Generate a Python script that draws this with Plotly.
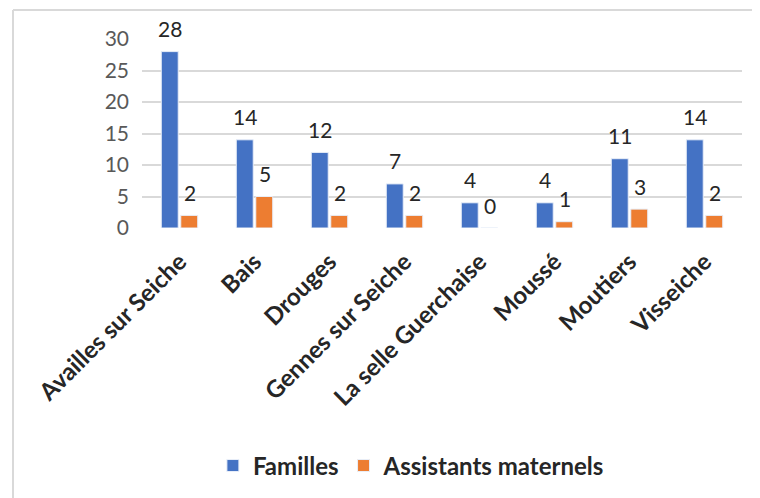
import plotly.graph_objects as go

categories = ["Availles sur Seiche", "Bais", "Drouges", "Gennes sur Seiche",
              "La selle Guerchaise", "Moussé", "Moutiers", "Visseiche"]
familles = [28, 14, 12, 7, 4, 4, 11, 14]
assistants = [2, 5, 2, 2, 0, 1, 3, 2]
series_names = ["Familles", "Assistants maternels"]
colors = ["#4472C4", "#ED7D31"]

FONT = "Lato, 'Open Sans', sans-serif"

fig = go.Figure()
for name, vals, col in zip(series_names, [familles, assistants], colors):
    fig.add_trace(go.Bar(
        name=name, x=categories, y=vals,
        marker=dict(color=col, line=dict(color="#e8eef8", width=1)),
    ))

annotations = []
for vals, shift in zip([familles, assistants], [-10, 10]):
    for c, v in zip(categories, vals):
        annotations.append(dict(
            x=c, y=v, xref="x", yref="y", text=str(v), showarrow=False,
            xshift=shift, yshift=23, yanchor="middle",
            font=dict(family=FONT, size=21, color="#262626"),
        ))

border = dict(color="#d9d9d9", width=2)
fig.update_layout(
    width=752, height=490, autosize=False,
    margin=dict(l=134, r=18, t=31, b=269),
    paper_bgcolor="white", plot_bgcolor="white",
    barmode="group", bargap=0.48, bargroupgap=0.13,
    font=dict(family=FONT, color="#595959"),
    annotations=annotations,
    showlegend=True,
    legend=dict(orientation="h", x=0.449, xanchor="center", y=-1.247, yanchor="middle",
                font=dict(family=FONT, size=24, color="#262626", weight="bold"),
                itemwidth=30, traceorder="normal"),
    shapes=[
        dict(type="line", xref="paper", yref="paper", x0=-0.215, x1=1.2, y0=1.153, y1=1.153, line=border),
        dict(type="line", xref="paper", yref="paper", x0=-0.215, x1=-0.215, y0=-1.6, y1=1.153, line=border),
    ],
)
fig.update_yaxes(range=[0, 30], dtick=5, showgrid=True, gridcolor="#d9d9d9", gridwidth=2,
                 zeroline=False, showline=False, ticks="", ticklabelstandoff=12,
                 tickfont=dict(family=FONT, size=21, color="#595959"))
fig.update_xaxes(tickangle=-45, showline=False, ticks="", ticklabelstandoff=14,
                 tickfont=dict(family=FONT, size=24, color="#262626", weight="bold"))

fig.write_html("out.html")
